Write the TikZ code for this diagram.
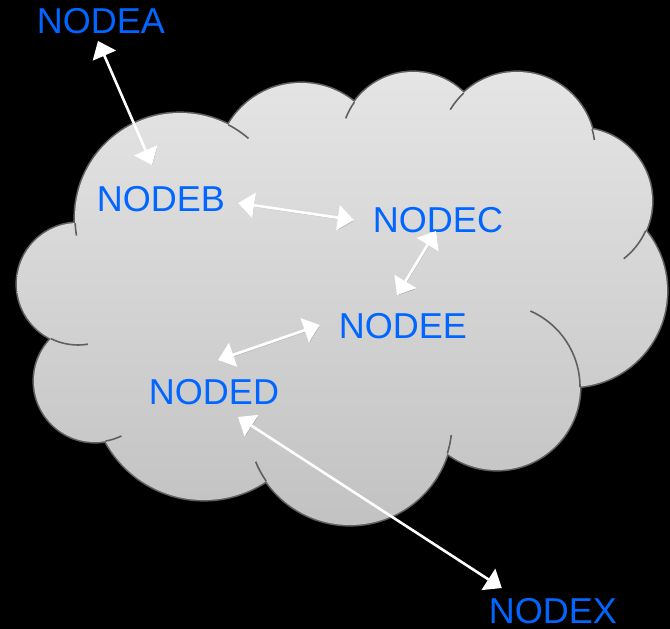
\documentclass[tikz,border=0pt]{standalone}
\usepackage{fontspec}
\setmainfont{Liberation Sans}
\usetikzlibrary{arrows.meta}
\definecolor{nodeblue}{RGB}{0,102,255}
\definecolor{cloudedge}{RGB}{96,96,96}
\definecolor{cloudtop}{RGB}{229,229,229}
\definecolor{cloudbottom}{RGB}{194,194,194}
\tikzset{lbl/.style={font=\fontsize{36}{36}\selectfont, text=nodeblue, inner sep=0pt}}
\tikzset{link/.style={white, line width=2.6pt, {Triangle[length=16pt,width=25pt]}-{Triangle[length=16pt,width=25pt]},
    preaction={draw=black, opacity=.15, transform canvas={shift={(1pt,-1.5pt)}}}}}
\tikzset{puff/.style={cloudedge, line width=1.6pt}}

% cloud bumps: centre x / centre y / radius (pixels, y downwards)
\def\bumps{180/218/105, 301/167/84, 413/144/72, 517/150/78, 579/201/73, 571/291/96,
  497/387/83, 350/423/102, 204/388/112, 95/381/61, 78/284/61}

\begin{document}
\begin{tikzpicture}[x=1pt, y=-1pt]
  \useasboundingbox (0,0) rectangle (670,629);
  \fill[black] (0,0) rectangle (670,629);
  % outer edge: thick circles, the fill hides their inner half
  \foreach \cx/\cy/\r [count=\i] in \bumps {
    \coordinate (b\i) at (\cx,\cy);
    \draw[puff, line width=3.2pt] (b\i) circle[radius=\r];
  }
  \begin{scope}
    \clip \foreach \cx/\cy/\r in \bumps {(\cx,\cy) circle[radius=\r]}
      (b1) -- (b2) -- (b3) -- (b4) -- (b5) -- (b6) -- (b7) -- (b8) -- (b9) -- (b10) -- (b11) -- cycle;
    \shade[top color=cloudtop, bottom color=cloudbottom] (0,70) rectangle (670,526);
  \end{scope}
  % bits of the bumps that run on inside the cloud
  \foreach \c/\r/\s/\e in {b1/105/170.4/177.2, b1/105/297.4/310.7, b3/72/200.9/215.5,
      b4/78/211.1/226.9, b4/78/344.5/352.6, b5/73/24/52.2, b7/83/293.7/360,
      b8/102/6.8/17.4, b8/102/145.2/157.7, b10/61/64.3/80.2, b11/61/80.7/116.3}
    \draw[puff] (\c) ++(\s:\r) arc[start angle=\s, end angle=\e, radius=\r];

  \node[lbl] (A) at (101,21) {NODEA};
  \node[lbl] (B) at (161,199) {NODEB};
  \node[lbl] (C) at (438,220) {NODEC};
  \node[lbl] (E) at (403,326) {NODEE};
  \node[lbl] (D) at (214,392) {NODED};
  \node[lbl] (X) at (553,611) {NODEX};

  \draw[link] ([shift={(-3,7)}]A.south) -- ([shift={(-9,-21)}]B.north);
  \draw[link] ([shift={(13,4)}]B.east) -- ([shift={(-19,0)}]C.west);
  \draw[link] ([shift={(-2,-2)}]C.south) -- ([shift={(-6,-18)}]E.north);
  \draw[link] ([shift={(-19,-1)}]E.west) -- ([shift={(4,-19)}]D.north);
  \draw[link] ([shift={(24,12)}]D.south) -- ([shift={(13,-10)}]X.north west);
\end{tikzpicture}
\end{document}
